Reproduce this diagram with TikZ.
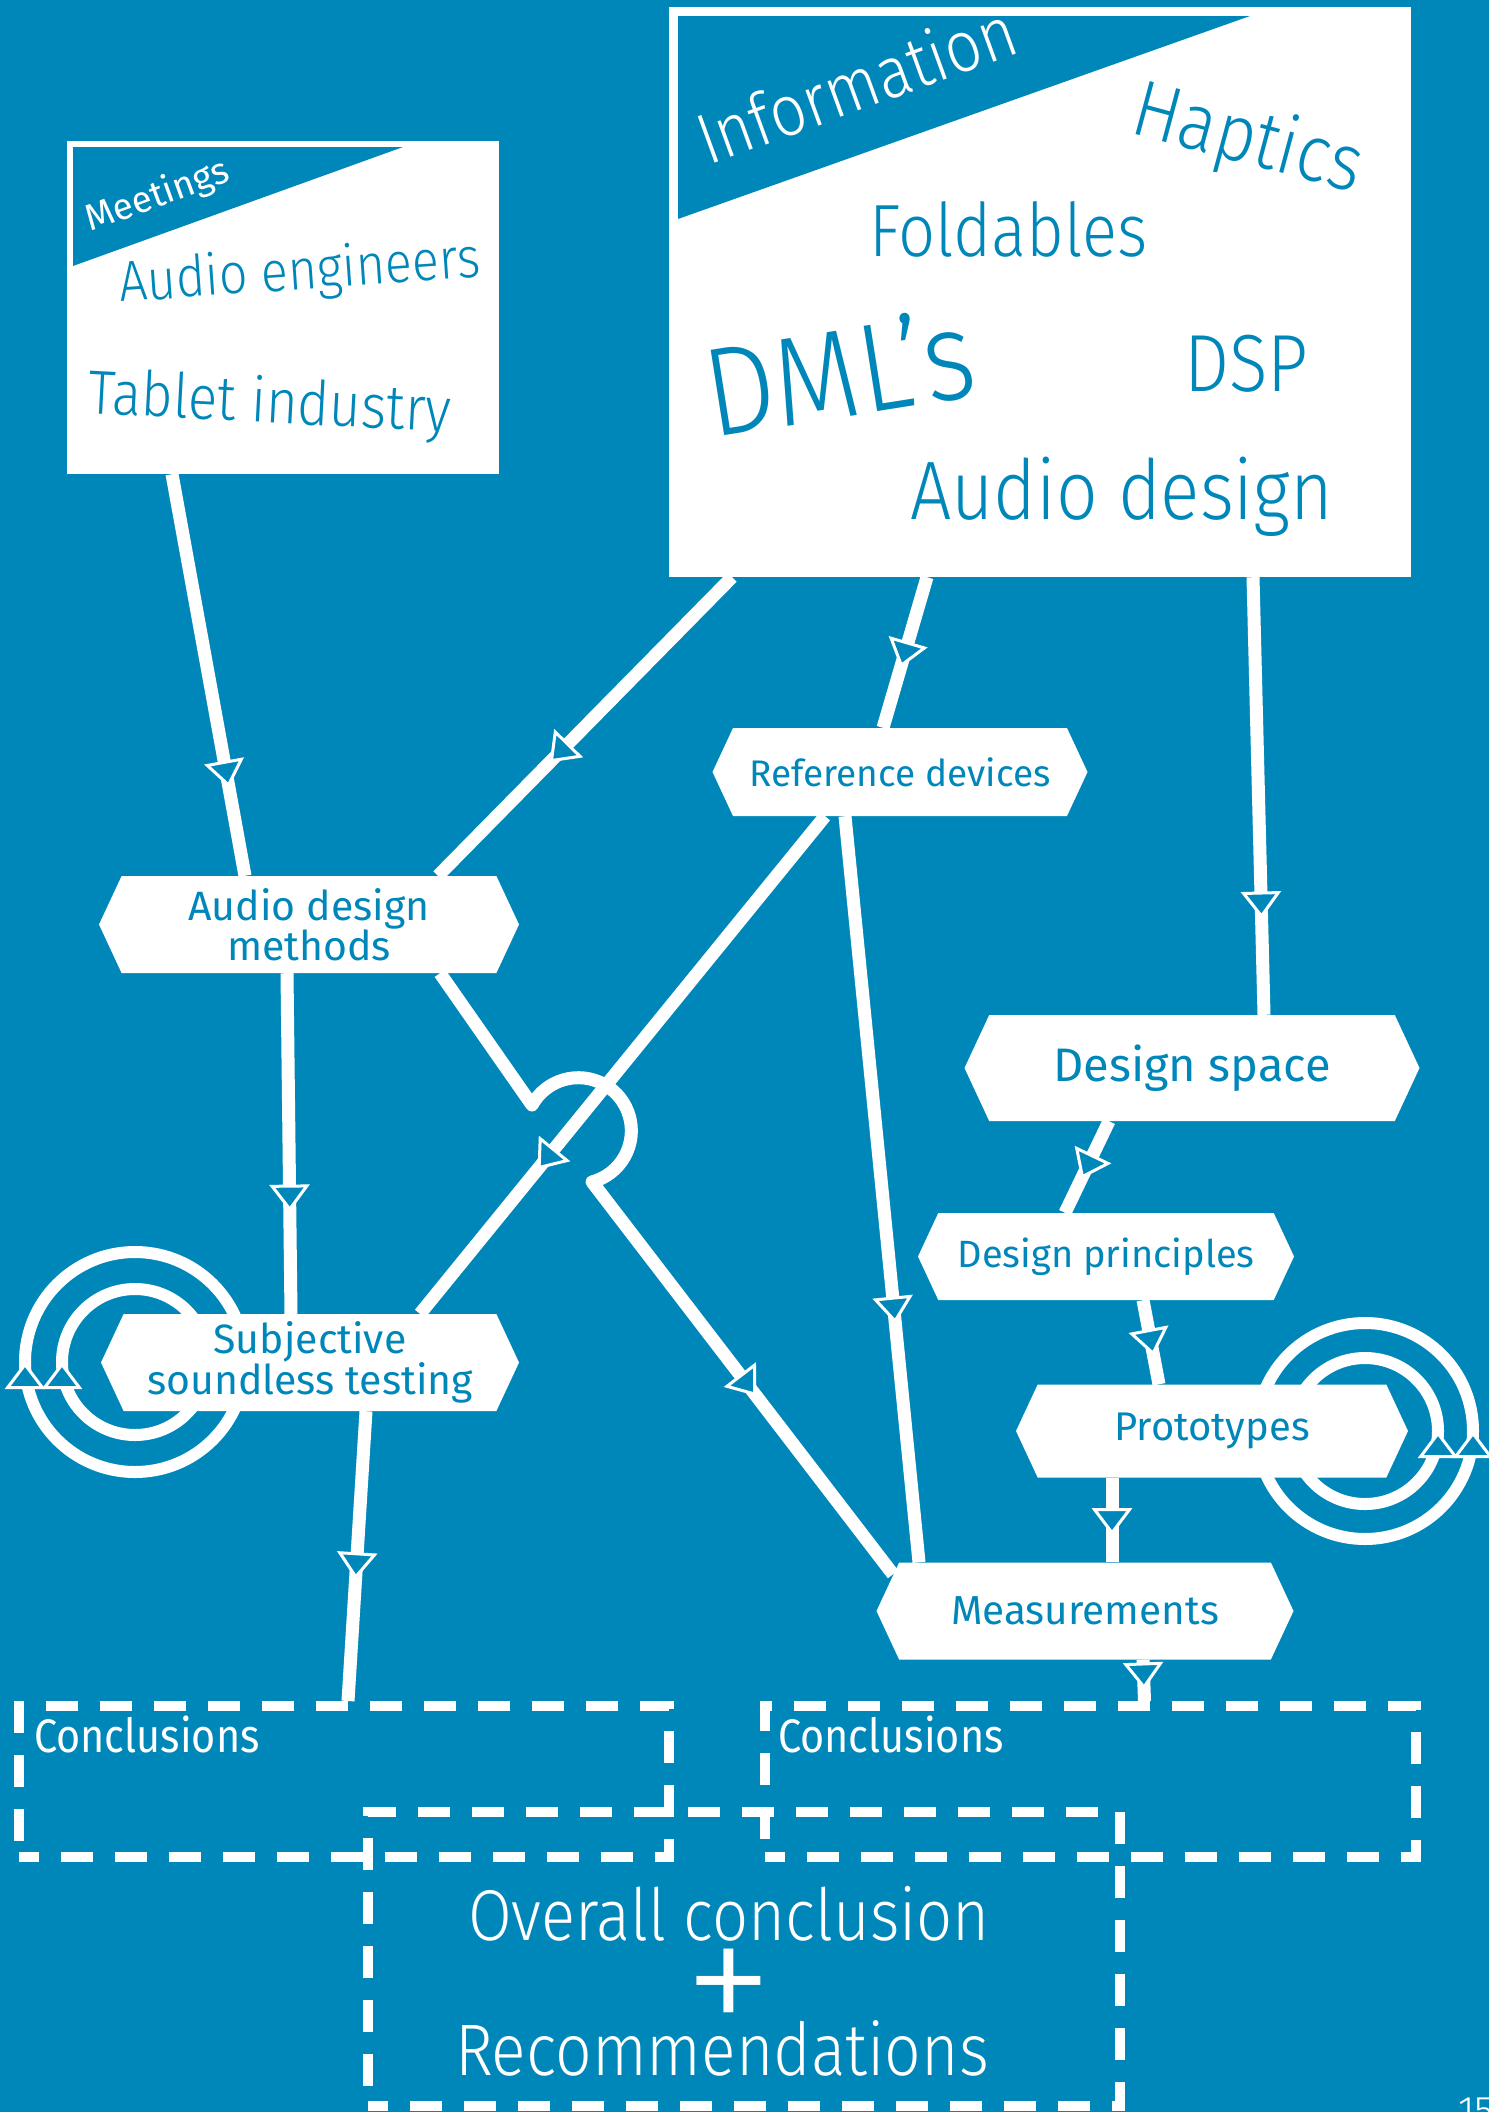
\documentclass[tikz,border=0pt]{standalone}
\usepackage{fontspec}
\setmainfont{Fira Sans}[UprightFont=* Light,BoldFont=*]
\newfontfamily\narrowfont{Fira Sans}[UprightFont=* Light,FakeStretch=0.88]
\newfontfamily\plainfont{Fira Sans}
\newfontfamily\narrowplain{Fira Sans}[FakeStretch=0.88]
\usetikzlibrary{arrows.meta,shapes.symbols,decorations.markings,backgrounds}
\definecolor{sea}{HTML}{0087BA}

\tikzset{
  flowtip/.tip={Triangle[length=27pt,width=40pt,fill=sea,line width=3pt 0]},
  flow/.style={draw=white,line width=13pt},
  ring/.style={draw=white,line width=12pt},
  arrowat/.style={postaction={decorate,decoration={markings,mark=at position #1 with {\arrow{flowtip}}}}},
  stage/.style={signal,signal to=west and east,signal pointer angle=130,fill=white,text=sea,inner sep=0pt,align=center},
  panel/.style={fill=white,inner sep=0pt},
  pile/.style={draw=white,line width=10pt,dash pattern=on 32pt off 22pt,dash phase=12pt,inner sep=0pt},
  word/.style={text=sea,inner sep=0pt,anchor=base west},
}

\begin{document}
\begin{tikzpicture}[x=1pt,y=-1pt]
\useasboundingbox (0,0) rectangle (1489,2112);
\begin{scope}[on background layer]
\fill[sea] (0,0) rectangle (1489,2112);
\end{scope}

% inputs
\node[panel,minimum width=432pt,minimum height=333pt] (meet) at (283,307.5) {};
\fill[sea] (73,147) -- (403,147) -- (73,266) -- cycle;
\node[word,text=white,rotate=20,font=\bfseries\fontsize{37}{40}\selectfont] at (90,232) {Meetings};
\node[word,rotate=4,font=\narrowfont\fontsize{57}{60}\selectfont] at (120,302) {Audio engineers};
\node[word,rotate=-3,font=\narrowfont\fontsize{62}{65}\selectfont] at (87,413) {Tablet industry};

\node[panel,minimum width=742pt,minimum height=570pt] (info) at (1040,292) {};
\fill[sea] (678,16) -- (1250,16) -- (678,219) -- cycle;
\node[word,text=white,rotate=20,font=\narrowfont\fontsize{72}{74}\selectfont] at (708,166) {Information};
\node[word,rotate=-15,font=\narrowfont\fontsize{80}{82}\selectfont] at (1128,132) {Haptics};
\node[word,font=\narrowfont\fontsize{74}{76}\selectfont] at (869,256) {Foldables};
\node[word,rotate=9,font=\narrowfont\fontsize{126}{128}\selectfont] at (712,438) {DML’s};
\node[word,font=\narrowfont\fontsize{81}{83}\selectfont] at (1184,391) {DSP};
\node[word,font=\narrowfont\fontsize{83}{85}\selectfont] at (910,519) {Audio design};

% stages
\node[stage,minimum width=375pt,minimum height=88pt,font=\plainfont\fontsize{37}{40}\selectfont] (refdev) at (900,772) {Reference devices};
\node[stage,minimum width=420pt,minimum height=97pt,font=\plainfont\fontsize{41}{37}\selectfont] (admeth) at (309,924.5) {Audio design\\methods};
\node[stage,minimum width=418pt,minimum height=97pt,font=\plainfont\fontsize{41}{38}\selectfont] (subj) at (310,1362.5) {Subjective\\soundless testing};
\node[stage,minimum width=455pt,minimum height=106pt,font=\plainfont\fontsize{47}{50}\selectfont] (dspace) at (1192,1068) {Design space};
\node[stage,minimum width=376pt,minimum height=87pt,font=\plainfont\fontsize{38}{40}\selectfont] (dprinc) at (1106,1256.5) {Design principles};
\node[stage,minimum width=392pt,minimum height=93pt,font=\plainfont\fontsize{40}{42}\selectfont] (proto) at (1212,1431) {Prototypes};
\node[stage,minimum width=417pt,minimum height=97pt,font=\plainfont\fontsize{40.5}{43}\selectfont] (meas) at (1085,1611) {Measurements};

% outcomes
\node[pile,minimum width=650pt,minimum height=151pt] (concl) at (344,1781.5) {};
\node[pile,minimum width=651pt,minimum height=151pt] (concr) at (1090.5,1781.5) {};
\node[pile,minimum width=752pt,minimum height=294pt] (overall) at (744,1959) {};
\node[word,text=white,font=\narrowplain\fontsize{47}{49}\selectfont] at (34,1752) {Conclusions};
\node[word,text=white,font=\narrowplain\fontsize{47}{49}\selectfont] at (778,1752) {Conclusions};
\node[text=white,anchor=base,inner sep=0pt,font=\narrowfont\fontsize{72}{74}\selectfont] at (729,1940) {Overall conclusion};
\node[text=white,inner sep=0pt,font=\fontsize{180}{180}\selectfont] at (729,1995) {+};
\node[text=white,anchor=base,inner sep=0pt,font=\narrowfont\fontsize{73}{75}\selectfont] at (722,2075) {Recommendations};
\node[word,text=white,font=\fontsize{40}{40}\selectfont] at (1458,2124) {15};

% connectors and loops
\begin{scope}[on background layer]
\coordinate (hopin) at (532,1105);
\draw[flow,arrowat=.78] ([xshift=-111pt]meet.south) -- ([xshift=-64pt]admeth.north);
\draw[flow,arrowat=.62] ([xshift=-308pt]info.south) -- ([xshift=129pt]admeth.north);
\draw[flow,arrowat=.60] ([xshift=-113pt]info.south) -- ([xshift=-17pt]refdev.north);
\draw[flow,arrowat=.78] ([xshift=213pt]info.south) -- ([xshift=72pt]dspace.north);
\draw[flow,arrowat=.71] ([xshift=-75pt]refdev.south) -- ([xshift=110pt]subj.north);
\draw[flow,line join=round,arrowat=.74] ([xshift=131pt]admeth.south) -- (hopin)
  arc[start angle=209,end angle=435,radius=53] -- ([xshift=-192pt,yshift=-12pt]meas.north);
\draw[flow,arrowat=.68] ([xshift=-55pt]refdev.south) -- ([xshift=-166pt]meas.north);
\draw[flow,arrowat=.70] ([xshift=-22pt]admeth.south) -- ([xshift=-19pt]subj.north);
\draw[flow,arrowat=.58] ([xshift=56pt]subj.south) -- ([xshift=4pt]concl.north);
\draw[flow,arrowat=.63] ([xshift=-83pt]dspace.south) -- ([xshift=-41pt]dprinc.north);
\draw[flow,arrowat=.66] ([xshift=37pt]dprinc.south) -- ([xshift=-53pt]proto.north);
\draw[flow,arrowat=.68] ([xshift=-100pt]proto.south) -- ([xshift=27pt]meas.north);
\draw[flow,arrowat=.72] ([xshift=58pt]meas.south) -- ([xshift=54pt]concr.north);

\draw[ring,arrowat=.25] (135,1362) ++(0,110) arc[start angle=90,end angle=450,radius=110];
\draw[ring,arrowat=.25] (135,1362) ++(0,73) arc[start angle=90,end angle=450,radius=73];
\draw[ring,arrowat=.25] (1365,1431) ++(0,108) arc[start angle=90,end angle=-270,radius=108];
\draw[ring,arrowat=.25] (1365,1431) ++(0,73) arc[start angle=90,end angle=-270,radius=73];
\end{scope}
\end{tikzpicture}
\end{document}
